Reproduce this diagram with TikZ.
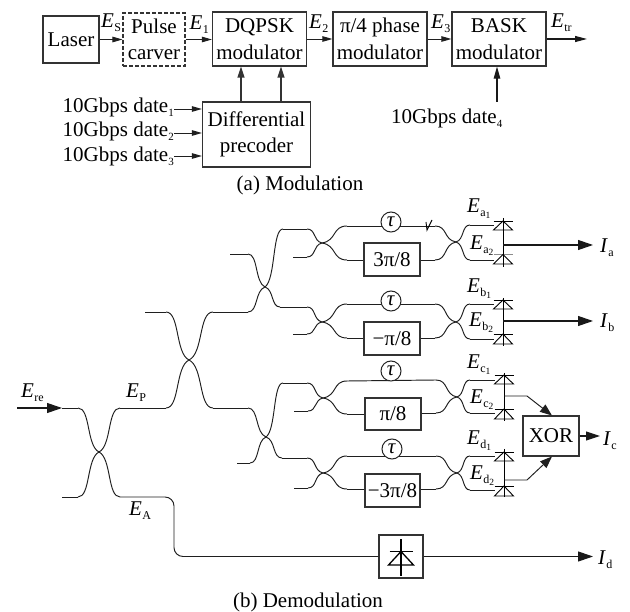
\documentclass[tikz,border=0pt]{standalone}
\usepackage{fontspec}
\setmainfont{Liberation Serif}
\usetikzlibrary{arrows.meta,calc}
\newcommand\Sb[2]{\textit{#1}\kern.3pt\raisebox{-3.5pt}{\fontsize{12}{12}\selectfont #2}}
\newcommand\Ssb[3]{\textit{#1}\kern.3pt\raisebox{-3.5pt}{\fontsize{12}{12}\selectfont #2\raisebox{-2.5pt}{\fontsize{9.5}{9.5}\selectfont #3}}}
\newcommand\Dt[1]{10Gbps date\raisebox{-4pt}{\fontsize{11}{11}\selectfont #1}}
% one arm of a coupler: outer end (horizontal there) to the waist
\newcommand\arm[2]{%
  \draw[wire] let \p1=(#1),\p2=(#2) in (#1) .. controls ({\x1+.6*(\x2-\x1)},\y1) and ({\x2+.6*(\x1-\x2)},{\y2+.14*(\y1-\y2)}) .. (#2);
}
% coupler: name, centre, top-left, bottom-left, top-right, bottom-right
\newcommand\coupler[6]{%
  \coordinate (#1c) at #2; \coordinate (#1tl) at #3; \coordinate (#1bl) at #4;
  \coordinate (#1tr) at #5; \coordinate (#1br) at #6;
  \arm{#1tl}{#1c}\arm{#1bl}{#1c}\arm{#1tr}{#1c}\arm{#1br}{#1c}%
}
% photodiode: name, x, bar y, base y
\newcommand\pdiode[5][black]{%
  \coordinate (#2) at (#3-9,{(#4+#5)/2});
  \draw[thin line,#1] (#3-9.5,#4) -- (#3+9.5,#4);
  \draw[thin line] (#3,#4) -- (#3-9.5,#5) -- (#3+9.5,#5) -- cycle;
}
\tikzset{
  wire/.style={line width=.95pt,black!88},
  thin line/.style={line width=.9pt,black},
  box/.style={draw=black!80,line width=1.2pt,align=center,inner sep=0pt,text=black},
  dashbox/.style={box,line width=1.05pt,dash pattern=on 4pt off 2pt},
  taunode/.style={draw=black!85,fill=white,line width=1pt,circle,minimum size=20pt,inner sep=0pt},
  sarr/.style={wire,-{Triangle[length=10pt,width=5.5pt]}},
  uarr/.style={line width=1.2pt,black!80,-{Triangle[length=11pt,width=7pt]}},
  barr/.style={line width=1.1pt,black!90,-{Triangle[length=15pt,width=10pt]}},
  lab/.style={anchor=base west,inner sep=0pt},
  every node/.append style={font=\fontsize{21}{26.5}\selectfont}
}
\begin{document}
\begin{tikzpicture}[x=1pt,y=-1pt]
\useasboundingbox[fill=white] (0,0) rectangle (630,612);
% (a) blocks
\node[box,minimum width=56pt,minimum height=47pt] (laser) at (71,39.5) {Laser};
\node[dashbox,minimum width=62pt,minimum height=53pt] (pulse) at (154,39.5) {Pulse\\carver};
\node[box,minimum width=94pt,minimum height=54pt] (dqpsk) at (259.5,39) {DQPSK\\modulator};
\node[box,minimum width=94pt,minimum height=54pt] (phase) at (380,39) {π/4 phase\\modulator};
\node[box,minimum width=94pt,minimum height=54pt] (bask) at (499,39) {BASK\\modulator};
\node[box,minimum width=108pt,minimum height=65pt] (diff) at (256.5,134.5) {Differential\\precoder};
\coordinate (etr) at (587,39);
\draw[sarr] (laser.east) -- (laser.east -| pulse.west);
\draw[sarr] (pulse.east) -- (pulse.east -| dqpsk.west);
\draw[sarr] (dqpsk.east) -- (phase.west);
\draw[sarr] (phase.east) -- (bask.west);
\draw[line width=1.1pt,black!90,-{Triangle[length=12pt,width=6pt]}] (bask.east) -- (etr);
\draw[uarr] ([xshift=-15.5pt]diff.north) -- ([xshift=-15.5pt]diff.north |- dqpsk.south);
\draw[uarr] ([xshift=24.5pt]diff.north) -- ([xshift=24.5pt]diff.north |- dqpsk.south);
\node[lab,anchor=base east] (d1) at (174,113) {\Dt{1}};
\node[lab,anchor=base east] (d2) at (174,137) {\Dt{2}};
\node[lab,anchor=base east] (d3) at (174,162) {\Dt{3}};
\draw[sarr] ([yshift=4pt]d1.base east) -- ([yshift=4pt]d1.base east -| diff.west);
\draw[sarr] ([yshift=4pt]d2.base east) -- ([yshift=4pt]d2.base east -| diff.west);
\draw[sarr] ([yshift=6pt]d3.base east) -- ([yshift=6pt]d3.base east -| diff.west);
\node[lab] (d4) at (391,124) {\Dt{4}};
\coordinate (d4top) at (497,102);
\draw[line width=1.1pt,black!90,-{Triangle[length=12pt,width=6.5pt]}] (d4top) -- (d4top |- bask.south);
\node[lab] (es) at (101,28) {\Sb{E}{S}};
\node[lab] (e1) at (189.5,30) {\Sb{E}{1}};
\node[lab] (e2) at (309,29) {\Sb{E}{2}};
\node[lab] (e3) at (431,29) {\Sb{E}{3}};
\node[lab] (etrl) at (551,28) {\Sb{E}{tr}};
\node (capa) at (300,185) {(a) Modulation};
% (b) couplers
\coupler{a}{(99,452)}{(78,408)}{(78,497)}{(120,408)}{(120,497)}
\coupler{b}{(189,360)}{(166,312)}{(166,408)}{(213,312)}{(213,408)}
\coupler{p}{(265,287)}{(248,254)}{(248,312)}{(283,229)}{(280,307)}
\coupler{q}{(266,437)}{(248,408)}{(250,463)}{(283,383)}{(282,458)}
\coupler{m}{(322,243)}{(307,229)}{(307,257)}{(347,226)}{(347,260)}
\coupler{n}{(322,322)}{(307,307)}{(307,334)}{(347,304)}{(347,338)}
\coupler{r}{(323,398)}{(307,383)}{(308,411)}{(347,381)}{(347,414)}
\coupler{s}{(323,473)}{(307,458)}{(308,488)}{(347,456)}{(347,489)}
\coupler{u}{(456,242)}{(435,226)}{(435,260)}{(470,225)}{(470,260)}
\coupler{v}{(456,322)}{(435,304)}{(435,338)}{(470,304)}{(470,339)}
\coupler{w}{(457,397)}{(436,380)}{(436,413)}{(470,380)}{(470,413)}
\coupler{x}{(457,473)}{(436,456)}{(436,489)}{(470,456)}{(470,490)}
% free inputs
\coordinate (in) at (17,408); \coordinate (inb) at (62,497);
\coordinate (bfree) at (145,312); \coordinate (pfree) at (230,254);
\coordinate (qfree) at (237,463); \coordinate (mfree) at (293,257);
\coordinate (nfree) at (293,334); \coordinate (rfree) at (294,411);
\coordinate (sfree) at (294,488);
\foreach \f/\g in {inb/abl,bfree/btl,pfree/ptl,qfree/qbl,mfree/mbl,nfree/nbl,rfree/rbl,sfree/sbl}
  \draw[wire] (\f) -- (\g);
\draw[barr] (in) -- ($(abl|-atl)+(-16,0)$);
\draw[wire] ($(abl|-atl)+(-16,0)$) -- (atl);
% links between couplers
\draw[wire] (atr) -- (bbl);
\draw[wire] (btr) -- (pbl);
\draw[wire] (bbr) -- (qtl);
\draw[wire] (ptr) -- (mtl);
\draw[wire] (pbr) -- (ntl);
\draw[wire] (qtr) -- (rtl);
\draw[wire] (qbr) -- (stl);
% delay arms
\draw[wire] (mtr) -- (utl);
\draw[wire] (ntr) -- (vtl);
\draw[wire] (rtr) -- (wtl);
\draw[wire] (str) -- (xtl);
\node[taunode] (ta) at (391,222) {\textit{τ}};
\node[taunode] (tb) at (391,301) {\textit{τ}};
\node[taunode] (tc) at (391,371) {\textit{τ}};
\node[taunode] (td) at (392,449) {\textit{τ}};
\draw[thin line] (426,222) -- (427,230) -- (432,220);
% phase arms
\node[box,minimum width=56pt,minimum height=33pt] (pa) at (392,259.5) {3π/8};
\node[box,minimum width=56pt,minimum height=33pt] (pb) at (392,338.5) {−π/8};
\node[box,minimum width=56pt,minimum height=32pt] (pc) at (393,414) {π/8};
\node[box,minimum width=55pt,minimum height=33pt] (pd) at (392.5,490.5) {−3π/8};
\foreach \l/\b/\r in {mbr/pa/ubl,nbr/pb/vbl,rbr/pc/wbl,sbr/pd/xbl}{
  \draw[wire] (\l) -- (\b.west |- \l);
  \draw[wire] (\b.east |- \r) -- (\r);
}
% photodiodes
\pdiode{dat}{503}{221}{230}
\pdiode[black!45]{dab}{503}{254.5}{264}
\pdiode{dbt}{503}{300}{309}
\pdiode{dbb}{503}{334}{344}
\pdiode{dct}{504}{375}{384}
\pdiode{dcb}{504}{409}{419}
\pdiode{ddt}{504}{452}{461}
\pdiode{ddb}{504}{486}{496}
\foreach \c/\d in {utr/dat,ubr/dab,vtr/dbt,vbr/dbb,wtr/dct,wbr/dcb,xtr/ddt,xbr/ddb}
  \draw[wire] (\c) -- (\d |- \c);
\coordinate (vat) at (503,218); \coordinate (vab) at (503,267);
\coordinate (vbt) at (503,298); \coordinate (vbb) at (503,346);
\coordinate (vct) at (504,373); \coordinate (vcb) at (504,421);
\coordinate (vdt) at (504,449); \coordinate (vdb) at (504,497);
\foreach \a/\b in {vat/vab,vbt/vbb,vct/vcb,vdt/vdb} \draw[thin line] (\a) -- (\b);
% outputs
\coordinate (oa) at (503,245); \coordinate (ob) at (503,321);
\coordinate (ea) at (593,245); \coordinate (eb) at (593,321);
\draw[barr] (oa) -- (ea);
\draw[barr] (ob) -- (eb);
\node[box,minimum width=56pt,minimum height=40pt] (xor) at (551,436) {XOR};
\coordinate (oc) at (504,396); \coordinate (bc) at (527,396);
\coordinate (od) at (504,480); \coordinate (bd) at (527,480);
\coordinate (xt) at (552,415.5); \coordinate (xb) at (552,456.5);
\draw[wire,-{Triangle[length=12pt,width=9pt]}] (oc) -- (bc) -- (xt);
\draw[wire,-{Triangle[length=12pt,width=9pt]}] (od) -- (bd) -- (xb);
\coordinate (ec) at (600,436);
\draw[line width=1.1pt,black!90,-{Triangle[length=14pt,width=9pt]}] (xor.east) -- (ec);
% direct path
\node[box,minimum width=44pt,minimum height=43pt] (det) at (401,556.5) {};
\coordinate (cA) at (174,497); \coordinate (cB) at (174,556.5);
\draw[wire,rounded corners=9pt] (abr) -- (cA) -- (cB) -- (det.west);
\coordinate (ed) at (593,556.5);
\draw[barr] (det.east) -- (ed);
\draw[line width=1.1pt] ($(det.center)+(0,-17)$) -- ($(det.center)+(0,19)$);
\draw[line width=1.3pt] ($(det.center)+(-11.5,-5)$) -- ($(det.center)+(11.5,-5)$);
\draw[line width=1.3pt] ($(det.center)+(0,-5)$) -- ($(det.center)+(-12.5,8.5)$) -- ($(det.center)+(12.5,8.5)$) -- cycle;
% labels
\node[lab] (lre) at (21,398) {\Sb{E}{re}};
\node[lab] (lp) at (126,398) {\Sb{E}{P}};
\node[lab] (la) at (129,516) {\Sb{E}{A}};
\node[lab] (la1) at (467,213) {\Ssb{E}{a}{1}};
\node[lab] (la2) at (470,250) {\Ssb{E}{a}{2}};
\node[lab] (lb1) at (467,293) {\Ssb{E}{b}{1}};
\node[lab] (lb2) at (469,327) {\Ssb{E}{b}{2}};
\node[lab] (lc1) at (467,369) {\Ssb{E}{c}{1}};
\node[lab] (lc2) at (470,404) {\Ssb{E}{c}{2}};
\node[lab] (ld1) at (467,445) {\Ssb{E}{d}{1}};
\node[lab] (ld2) at (470,480) {\Ssb{E}{d}{2}};
\node[lab] (ia) at (600,253) {\Sb{I}{a}};
\node[lab] (ib) at (600,328) {\Sb{I}{b}};
\node[lab] (ic) at (603,446) {\Sb{I}{c}};
\node[lab] (id) at (598,565) {\Sb{I}{d}};
\node (capb) at (308,602) {(b) Demodulation};
\end{tikzpicture}
\end{document}
